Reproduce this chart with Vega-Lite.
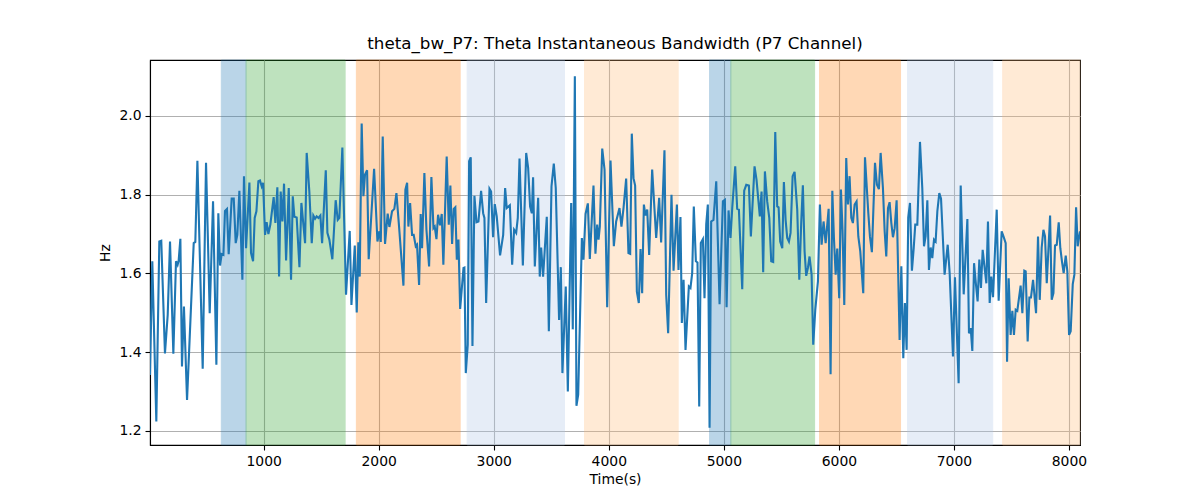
{
  "$schema": "https://vega.github.io/schema/vega-lite/v6.json",
  "description": "theta_bw_P7 instantaneous bandwidth over time, with shaded segments.",
  "autosize": {"type": "none"},
  "width": 930,
  "height": 385,
  "padding": {"left": 150, "top": 60, "right": 120, "bottom": 55},
  "title": {
    "text": "theta_bw_P7: Theta Instantaneous Bandwidth (P7 Channel)",
    "fontSize": 16.7,
    "fontWeight": "normal",
    "offset": 7
  },
  "config": {
    "font": "DejaVu Sans",
    "view": {"stroke": "black", "strokeWidth": 1.1},
    "axis": {
      "labelFontSize": 13.9,
      "titleFontSize": 13.9,
      "titleFontWeight": "normal",
      "labelColor": "black",
      "titleColor": "black",
      "domainColor": "black",
      "domainWidth": 1.1,
      "tickColor": "black",
      "tickWidth": 1.1,
      "tickSize": 5,
      "labelPadding": 4,
      "gridColor": "#b0b0b0",
      "gridWidth": 1.1,
      "gridOpacity": 1
    }
  },
  "datasets": {
    "bands": [
      {"start": 632, "end": 847, "seg": "s1"},
      {"start": 847, "end": 1708, "seg": "s2"},
      {"start": 1806, "end": 2708, "seg": "s3"},
      {"start": 2769, "end": 3615, "seg": "s4"},
      {"start": 3789, "end": 4603, "seg": "s5"},
      {"start": 4876, "end": 5061, "seg": "s1"},
      {"start": 5061, "end": 5789, "seg": "s2"},
      {"start": 5832, "end": 6536, "seg": "s3"},
      {"start": 6597, "end": 7337, "seg": "s4"},
      {"start": 7424, "end": 8096, "seg": "s5"}
    ],
    "series": [
      {"t": 12, "bw": 1.342}, {"t": 32, "bw": 1.631}, {"t": 67, "bw": 1.224}, {"t": 93, "bw": 1.681},
      {"t": 110, "bw": 1.683}, {"t": 142, "bw": 1.397}, {"t": 166, "bw": 1.495}, {"t": 186, "bw": 1.681},
      {"t": 215, "bw": 1.396}, {"t": 238, "bw": 1.631}, {"t": 252, "bw": 1.622}, {"t": 261, "bw": 1.632},
      {"t": 276, "bw": 1.688}, {"t": 290, "bw": 1.364}, {"t": 307, "bw": 1.516}, {"t": 334, "bw": 1.279},
      {"t": 392, "bw": 1.677}, {"t": 406, "bw": 1.68}, {"t": 424, "bw": 1.886}, {"t": 470, "bw": 1.358},
      {"t": 499, "bw": 1.881}, {"t": 531, "bw": 1.499}, {"t": 560, "bw": 1.783}, {"t": 589, "bw": 1.368},
      {"t": 606, "bw": 1.753}, {"t": 621, "bw": 1.62}, {"t": 635, "bw": 1.649}, {"t": 650, "bw": 1.647},
      {"t": 664, "bw": 1.759}, {"t": 681, "bw": 1.764}, {"t": 696, "bw": 1.649}, {"t": 722, "bw": 1.79},
      {"t": 740, "bw": 1.79}, {"t": 757, "bw": 1.677}, {"t": 771, "bw": 1.698}, {"t": 789, "bw": 1.81},
      {"t": 815, "bw": 1.584}, {"t": 829, "bw": 1.847}, {"t": 847, "bw": 1.664}, {"t": 876, "bw": 1.831},
      {"t": 890, "bw": 1.652}, {"t": 908, "bw": 1.631}, {"t": 922, "bw": 1.741}, {"t": 937, "bw": 1.758},
      {"t": 954, "bw": 1.834}, {"t": 968, "bw": 1.836}, {"t": 983, "bw": 1.821}, {"t": 995, "bw": 1.83},
      {"t": 1012, "bw": 1.698}, {"t": 1026, "bw": 1.73}, {"t": 1041, "bw": 1.7}, {"t": 1058, "bw": 1.724},
      {"t": 1087, "bw": 1.794}, {"t": 1102, "bw": 1.728}, {"t": 1119, "bw": 1.819}, {"t": 1134, "bw": 1.592},
      {"t": 1148, "bw": 1.808}, {"t": 1163, "bw": 1.732}, {"t": 1177, "bw": 1.828}, {"t": 1195, "bw": 1.633},
      {"t": 1218, "bw": 1.817}, {"t": 1238, "bw": 1.584}, {"t": 1253, "bw": 1.796}, {"t": 1267, "bw": 1.744},
      {"t": 1287, "bw": 1.742}, {"t": 1311, "bw": 1.616}, {"t": 1328, "bw": 1.779}, {"t": 1360, "bw": 1.677},
      {"t": 1374, "bw": 1.906}, {"t": 1397, "bw": 1.808}, {"t": 1418, "bw": 1.677}, {"t": 1432, "bw": 1.747},
      {"t": 1447, "bw": 1.739}, {"t": 1461, "bw": 1.745}, {"t": 1476, "bw": 1.741}, {"t": 1493, "bw": 1.747},
      {"t": 1508, "bw": 1.677}, {"t": 1540, "bw": 1.862}, {"t": 1554, "bw": 1.703}, {"t": 1571, "bw": 1.686},
      {"t": 1597, "bw": 1.636}, {"t": 1626, "bw": 1.786}, {"t": 1644, "bw": 1.736}, {"t": 1658, "bw": 1.741},
      {"t": 1684, "bw": 1.92}, {"t": 1716, "bw": 1.546}, {"t": 1748, "bw": 1.708}, {"t": 1763, "bw": 1.52},
      {"t": 1792, "bw": 1.671}, {"t": 1809, "bw": 1.501}, {"t": 1823, "bw": 1.679}, {"t": 1835, "bw": 1.592},
      {"t": 1852, "bw": 1.981}, {"t": 1867, "bw": 1.796}, {"t": 1881, "bw": 1.851}, {"t": 1899, "bw": 1.862},
      {"t": 1913, "bw": 1.636}, {"t": 1960, "bw": 1.866}, {"t": 1989, "bw": 1.681}, {"t": 2006, "bw": 1.707},
      {"t": 2018, "bw": 1.68}, {"t": 2035, "bw": 1.948}, {"t": 2055, "bw": 1.675}, {"t": 2078, "bw": 1.752},
      {"t": 2093, "bw": 1.718}, {"t": 2116, "bw": 1.758}, {"t": 2136, "bw": 1.764}, {"t": 2154, "bw": 1.804},
      {"t": 2177, "bw": 1.719}, {"t": 2215, "bw": 1.569}, {"t": 2232, "bw": 1.813}, {"t": 2247, "bw": 1.83},
      {"t": 2258, "bw": 1.719}, {"t": 2273, "bw": 1.779}, {"t": 2290, "bw": 1.698}, {"t": 2304, "bw": 1.698},
      {"t": 2322, "bw": 1.669}, {"t": 2333, "bw": 1.673}, {"t": 2351, "bw": 1.571}, {"t": 2365, "bw": 1.751},
      {"t": 2377, "bw": 1.664}, {"t": 2397, "bw": 1.855}, {"t": 2415, "bw": 1.711}, {"t": 2438, "bw": 1.618},
      {"t": 2458, "bw": 1.845}, {"t": 2476, "bw": 1.715}, {"t": 2487, "bw": 1.719}, {"t": 2502, "bw": 1.687},
      {"t": 2516, "bw": 1.749}, {"t": 2533, "bw": 1.722}, {"t": 2548, "bw": 1.751}, {"t": 2562, "bw": 1.622},
      {"t": 2591, "bw": 1.897}, {"t": 2609, "bw": 1.724}, {"t": 2623, "bw": 1.823}, {"t": 2638, "bw": 1.675},
      {"t": 2652, "bw": 1.764}, {"t": 2666, "bw": 1.768}, {"t": 2679, "bw": 1.635}, {"t": 2693, "bw": 1.686},
      {"t": 2708, "bw": 1.51}, {"t": 2737, "bw": 1.614}, {"t": 2745, "bw": 1.615}, {"t": 2757, "bw": 1.347},
      {"t": 2774, "bw": 1.419}, {"t": 2786, "bw": 1.885}, {"t": 2800, "bw": 1.895}, {"t": 2815, "bw": 1.416},
      {"t": 2832, "bw": 1.797}, {"t": 2850, "bw": 1.73}, {"t": 2867, "bw": 1.732}, {"t": 2890, "bw": 1.81},
      {"t": 2908, "bw": 1.753}, {"t": 2919, "bw": 1.741}, {"t": 2934, "bw": 1.525}, {"t": 2963, "bw": 1.815},
      {"t": 2977, "bw": 1.808}, {"t": 2994, "bw": 1.692}, {"t": 3009, "bw": 1.776}, {"t": 3026, "bw": 1.745},
      {"t": 3055, "bw": 1.646}, {"t": 3082, "bw": 1.698}, {"t": 3099, "bw": 1.817}, {"t": 3113, "bw": 1.766},
      {"t": 3140, "bw": 1.773}, {"t": 3160, "bw": 1.622}, {"t": 3177, "bw": 1.711}, {"t": 3195, "bw": 1.703},
      {"t": 3209, "bw": 1.741}, {"t": 3224, "bw": 1.892}, {"t": 3253, "bw": 1.62}, {"t": 3282, "bw": 1.906},
      {"t": 3299, "bw": 1.868}, {"t": 3316, "bw": 1.77}, {"t": 3331, "bw": 1.753}, {"t": 3342, "bw": 1.844},
      {"t": 3357, "bw": 1.618}, {"t": 3386, "bw": 1.792}, {"t": 3400, "bw": 1.592}, {"t": 3412, "bw": 1.666},
      {"t": 3429, "bw": 1.592}, {"t": 3461, "bw": 1.744}, {"t": 3479, "bw": 1.453}, {"t": 3502, "bw": 1.821},
      {"t": 3522, "bw": 1.879}, {"t": 3539, "bw": 1.817}, {"t": 3568, "bw": 1.482}, {"t": 3583, "bw": 1.616},
      {"t": 3597, "bw": 1.347}, {"t": 3626, "bw": 1.567}, {"t": 3644, "bw": 1.3}, {"t": 3673, "bw": 1.779},
      {"t": 3687, "bw": 1.458}, {"t": 3705, "bw": 2.101}, {"t": 3719, "bw": 1.264}, {"t": 3734, "bw": 1.292},
      {"t": 3766, "bw": 1.69}, {"t": 3780, "bw": 1.635}, {"t": 3798, "bw": 1.751}, {"t": 3818, "bw": 1.778},
      {"t": 3835, "bw": 1.637}, {"t": 3867, "bw": 1.823}, {"t": 3884, "bw": 1.65}, {"t": 3899, "bw": 1.724},
      {"t": 3911, "bw": 1.686}, {"t": 3922, "bw": 1.719}, {"t": 3943, "bw": 1.917}, {"t": 3963, "bw": 1.864},
      {"t": 3986, "bw": 1.514}, {"t": 4015, "bw": 1.887}, {"t": 4044, "bw": 1.669}, {"t": 4064, "bw": 1.732},
      {"t": 4093, "bw": 1.766}, {"t": 4110, "bw": 1.719}, {"t": 4128, "bw": 1.766}, {"t": 4151, "bw": 1.841},
      {"t": 4171, "bw": 1.652}, {"t": 4186, "bw": 1.65}, {"t": 4200, "bw": 1.955}, {"t": 4215, "bw": 1.842},
      {"t": 4229, "bw": 1.823}, {"t": 4244, "bw": 1.554}, {"t": 4261, "bw": 1.525}, {"t": 4276, "bw": 1.662},
      {"t": 4290, "bw": 1.55}, {"t": 4305, "bw": 1.775}, {"t": 4319, "bw": 1.747}, {"t": 4334, "bw": 1.762},
      {"t": 4351, "bw": 1.647}, {"t": 4377, "bw": 1.864}, {"t": 4394, "bw": 1.779}, {"t": 4412, "bw": 1.69},
      {"t": 4438, "bw": 1.792}, {"t": 4455, "bw": 1.679}, {"t": 4484, "bw": 1.913}, {"t": 4499, "bw": 1.546},
      {"t": 4516, "bw": 1.448}, {"t": 4545, "bw": 1.8}, {"t": 4563, "bw": 1.607}, {"t": 4592, "bw": 1.775},
      {"t": 4606, "bw": 1.609}, {"t": 4623, "bw": 1.743}, {"t": 4635, "bw": 1.474}, {"t": 4650, "bw": 1.584},
      {"t": 4667, "bw": 1.406}, {"t": 4696, "bw": 1.567}, {"t": 4710, "bw": 1.563}, {"t": 4725, "bw": 1.601},
      {"t": 4739, "bw": 1.77}, {"t": 4757, "bw": 1.631}, {"t": 4771, "bw": 1.628}, {"t": 4786, "bw": 1.262},
      {"t": 4800, "bw": 1.677}, {"t": 4818, "bw": 1.687}, {"t": 4832, "bw": 1.537}, {"t": 4847, "bw": 1.725},
      {"t": 4861, "bw": 1.775}, {"t": 4876, "bw": 1.208}, {"t": 4890, "bw": 1.732}, {"t": 4910, "bw": 1.736},
      {"t": 4934, "bw": 1.834}, {"t": 4963, "bw": 1.522}, {"t": 4992, "bw": 1.783}, {"t": 5009, "bw": 1.787},
      {"t": 5024, "bw": 1.514}, {"t": 5041, "bw": 1.76}, {"t": 5058, "bw": 1.69}, {"t": 5073, "bw": 1.766},
      {"t": 5099, "bw": 1.872}, {"t": 5116, "bw": 1.764}, {"t": 5131, "bw": 1.762}, {"t": 5160, "bw": 1.56},
      {"t": 5177, "bw": 1.81}, {"t": 5195, "bw": 1.825}, {"t": 5218, "bw": 1.823}, {"t": 5235, "bw": 1.694},
      {"t": 5267, "bw": 1.872}, {"t": 5284, "bw": 1.838}, {"t": 5313, "bw": 1.745}, {"t": 5328, "bw": 1.808},
      {"t": 5342, "bw": 1.603}, {"t": 5357, "bw": 1.859}, {"t": 5377, "bw": 1.783}, {"t": 5395, "bw": 1.741},
      {"t": 5412, "bw": 1.631}, {"t": 5429, "bw": 1.629}, {"t": 5447, "bw": 1.959}, {"t": 5464, "bw": 1.77},
      {"t": 5476, "bw": 1.768}, {"t": 5490, "bw": 1.681}, {"t": 5508, "bw": 1.664}, {"t": 5522, "bw": 1.832},
      {"t": 5537, "bw": 1.736}, {"t": 5551, "bw": 1.69}, {"t": 5566, "bw": 1.681}, {"t": 5580, "bw": 1.703},
      {"t": 5598, "bw": 1.847}, {"t": 5615, "bw": 1.858}, {"t": 5638, "bw": 1.762}, {"t": 5656, "bw": 1.584},
      {"t": 5673, "bw": 1.732}, {"t": 5687, "bw": 1.824}, {"t": 5702, "bw": 1.656}, {"t": 5716, "bw": 1.594},
      {"t": 5731, "bw": 1.614}, {"t": 5745, "bw": 1.643}, {"t": 5763, "bw": 1.597}, {"t": 5777, "bw": 1.419},
      {"t": 5795, "bw": 1.508}, {"t": 5818, "bw": 1.58}, {"t": 5835, "bw": 1.775}, {"t": 5850, "bw": 1.673},
      {"t": 5867, "bw": 1.732}, {"t": 5885, "bw": 1.677}, {"t": 5911, "bw": 1.764}, {"t": 5928, "bw": 1.344},
      {"t": 5943, "bw": 1.81}, {"t": 5957, "bw": 1.69}, {"t": 5972, "bw": 1.597}, {"t": 5986, "bw": 1.663},
      {"t": 6003, "bw": 1.537}, {"t": 6018, "bw": 1.813}, {"t": 6032, "bw": 1.707}, {"t": 6047, "bw": 1.52},
      {"t": 6064, "bw": 1.893}, {"t": 6079, "bw": 1.775}, {"t": 6093, "bw": 1.847}, {"t": 6108, "bw": 1.741},
      {"t": 6122, "bw": 1.728}, {"t": 6137, "bw": 1.775}, {"t": 6154, "bw": 1.783}, {"t": 6169, "bw": 1.694},
      {"t": 6186, "bw": 1.656}, {"t": 6212, "bw": 1.55}, {"t": 6227, "bw": 1.895}, {"t": 6256, "bw": 1.753},
      {"t": 6270, "bw": 1.694}, {"t": 6287, "bw": 1.654}, {"t": 6314, "bw": 1.881}, {"t": 6331, "bw": 1.825},
      {"t": 6348, "bw": 1.814}, {"t": 6363, "bw": 1.906}, {"t": 6383, "bw": 1.817}, {"t": 6398, "bw": 1.707},
      {"t": 6412, "bw": 1.643}, {"t": 6427, "bw": 1.766}, {"t": 6441, "bw": 1.781}, {"t": 6456, "bw": 1.728},
      {"t": 6470, "bw": 1.692}, {"t": 6485, "bw": 1.715}, {"t": 6502, "bw": 1.786}, {"t": 6528, "bw": 1.431},
      {"t": 6543, "bw": 1.618}, {"t": 6560, "bw": 1.385}, {"t": 6574, "bw": 1.525}, {"t": 6589, "bw": 1.406},
      {"t": 6603, "bw": 1.742}, {"t": 6618, "bw": 1.779}, {"t": 6635, "bw": 1.607}, {"t": 6650, "bw": 1.662},
      {"t": 6664, "bw": 1.724}, {"t": 6682, "bw": 1.724}, {"t": 6705, "bw": 1.934}, {"t": 6725, "bw": 1.817},
      {"t": 6740, "bw": 1.669}, {"t": 6754, "bw": 1.694}, {"t": 6769, "bw": 1.786}, {"t": 6783, "bw": 1.609},
      {"t": 6798, "bw": 1.666}, {"t": 6812, "bw": 1.639}, {"t": 6827, "bw": 1.686}, {"t": 6841, "bw": 1.681},
      {"t": 6856, "bw": 1.758}, {"t": 6873, "bw": 1.804}, {"t": 6888, "bw": 1.79}, {"t": 6919, "bw": 1.597},
      {"t": 6946, "bw": 1.673}, {"t": 6963, "bw": 1.601}, {"t": 6992, "bw": 1.389}, {"t": 7009, "bw": 1.59},
      {"t": 7041, "bw": 1.321}, {"t": 7059, "bw": 1.823}, {"t": 7085, "bw": 1.547}, {"t": 7117, "bw": 1.738},
      {"t": 7131, "bw": 1.448}, {"t": 7146, "bw": 1.461}, {"t": 7160, "bw": 1.403}, {"t": 7175, "bw": 1.626},
      {"t": 7189, "bw": 1.58}, {"t": 7206, "bw": 1.529}, {"t": 7221, "bw": 1.635}, {"t": 7235, "bw": 1.563},
      {"t": 7250, "bw": 1.66}, {"t": 7264, "bw": 1.622}, {"t": 7282, "bw": 1.575}, {"t": 7296, "bw": 1.732},
      {"t": 7311, "bw": 1.525}, {"t": 7325, "bw": 1.592}, {"t": 7340, "bw": 1.54}, {"t": 7372, "bw": 1.762},
      {"t": 7389, "bw": 1.531}, {"t": 7415, "bw": 1.707}, {"t": 7433, "bw": 1.692}, {"t": 7450, "bw": 1.677},
      {"t": 7462, "bw": 1.376}, {"t": 7476, "bw": 1.588}, {"t": 7493, "bw": 1.444}, {"t": 7508, "bw": 1.505},
      {"t": 7522, "bw": 1.444}, {"t": 7537, "bw": 1.508}, {"t": 7551, "bw": 1.505}, {"t": 7580, "bw": 1.569},
      {"t": 7595, "bw": 1.499}, {"t": 7612, "bw": 1.607}, {"t": 7624, "bw": 1.605}, {"t": 7641, "bw": 1.427},
      {"t": 7656, "bw": 1.539}, {"t": 7670, "bw": 1.539}, {"t": 7688, "bw": 1.584}, {"t": 7714, "bw": 1.499},
      {"t": 7731, "bw": 1.694}, {"t": 7746, "bw": 1.533}, {"t": 7763, "bw": 1.666}, {"t": 7778, "bw": 1.711},
      {"t": 7792, "bw": 1.694}, {"t": 7807, "bw": 1.575}, {"t": 7836, "bw": 1.747}, {"t": 7850, "bw": 1.533},
      {"t": 7865, "bw": 1.55}, {"t": 7879, "bw": 1.671}, {"t": 7894, "bw": 1.673}, {"t": 7911, "bw": 1.73},
      {"t": 7925, "bw": 1.664}, {"t": 7940, "bw": 1.629}, {"t": 7954, "bw": 1.601}, {"t": 7972, "bw": 1.645},
      {"t": 7986, "bw": 1.605}, {"t": 8001, "bw": 1.444}, {"t": 8015, "bw": 1.453}, {"t": 8033, "bw": 1.573},
      {"t": 8047, "bw": 1.597}, {"t": 8062, "bw": 1.768}, {"t": 8076, "bw": 1.669}, {"t": 8096, "bw": 1.707}
    ]
  },
  "layer": [
    {
      "data": {"name": "bands"},
      "mark": {"type": "rect", "opacity": 0.3, "strokeWidth": 1},
      "encoding": {
        "x": {
          "field": "start",
          "type": "quantitative",
          "scale": {"domain": [12, 8096], "nice": false, "zero": false},
          "axis": {
            "title": "Time(s)",
            "values": [1000, 2000, 3000, 4000, 5000, 6000, 7000, 8000],
            "format": "d",
            "titlePadding": 5
          }
        },
        "x2": {"field": "end"},
        "color": {
          "field": "seg",
          "type": "nominal",
          "scale": {
            "domain": ["s1", "s2", "s3", "s4", "s5"],
            "range": ["#1f77b4", "#2ca02c", "#ff7f0e", "#aec7e8", "#ffbb78"]
          },
          "legend": null
        },
        "stroke": {
          "field": "seg",
          "type": "nominal",
          "scale": {
            "domain": ["s1", "s2", "s3", "s4", "s5"],
            "range": ["#1f77b4", "#2ca02c", "#ff7f0e", "#aec7e8", "#ffbb78"]
          },
          "legend": null
        }
      }
    },
    {
      "data": {"name": "series"},
      "mark": {"type": "line", "color": "#1f77b4", "strokeWidth": 2.1, "clip": true},
      "encoding": {
        "x": {"field": "t", "type": "quantitative"},
        "y": {
          "field": "bw",
          "type": "quantitative",
          "scale": {"domain": [1.1644, 2.142], "nice": false, "zero": false},
          "axis": {
            "title": "Hz",
            "values": [1.2, 1.4, 1.6, 1.8, 2.0],
            "format": ".1f",
            "titlePadding": 6
          }
        }
      }
    }
  ]
}
